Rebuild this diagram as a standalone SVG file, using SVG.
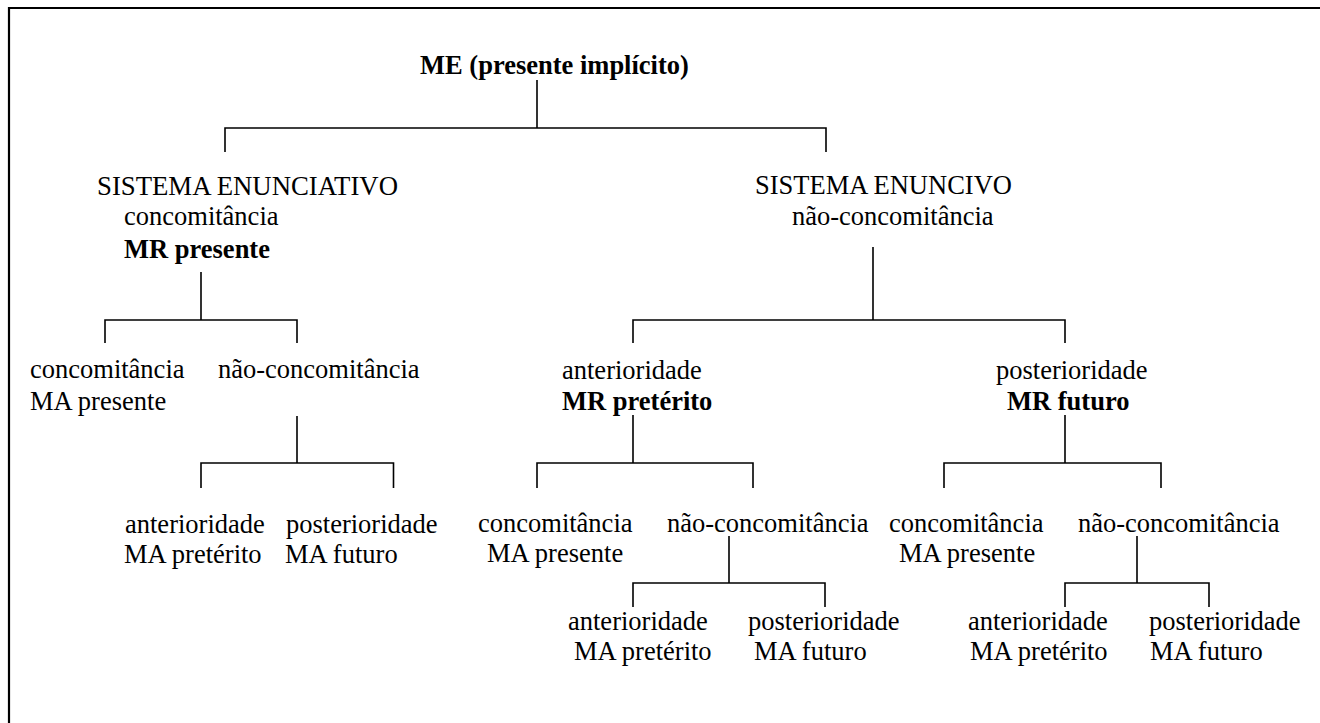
<svg xmlns="http://www.w3.org/2000/svg" width="1320" height="723" viewBox="0 0 1320 723">
<style>
text{font-size:26.5px;fill:#000}
.b{font-weight:bold}
.ln{stroke:#000;stroke-width:1.6;fill:none}
.frame{stroke:#000;stroke-width:2.2;fill:none}
</style>
<rect width="1320" height="723" fill="#fff"/>
<path class="frame" d="M9 723 V8 H1320"/>
<g id="connectors">
<path class="ln" d="M537 80V128M225 152V128H826V152"/>
<path class="ln" d="M201 272V320M105 343V320H297V343"/>
<path class="ln" d="M297 416V463M201 488V463H393.5V488"/>
<path class="ln" d="M873 247V320M633 343V320H1065V343"/>
<path class="ln" d="M633 415V463M537 488V463H753V488"/>
<path class="ln" d="M1065 415V463M944 488V463H1161V488"/>
<path class="ln" d="M729 536V583M633 607V583H825V607"/>
<path class="ln" d="M1137 536V583M1065 607V583H1209V607"/>
</g>
<g font-family="Liberation Serif, serif">
<g id="node-me"><text class="b" x="420" y="74">ME (presente implícito)</text></g>
<g id="node-enunciativo">
<text x="97" y="195" textLength="301" lengthAdjust="spacingAndGlyphs">SISTEMA ENUNCIATIVO</text>
<text x="124" y="225">concomitância</text>
<text class="b" x="124" y="258">MR presente</text>
</g>
<g id="node-enuncivo">
<text x="755" y="194">SISTEMA ENUNCIVO</text>
<text x="792" y="225">não-concomitância</text>
</g>
<g id="node-l-conc">
<text x="30" y="378">concomitância</text>
<text x="30" y="410">MA presente</text>
</g>
<g id="node-l-nconc"><text x="218" y="378">não-concomitância</text></g>
<g id="node-l-ant">
<text x="125" y="533">anterioridade</text>
<text x="124" y="563">MA pretérito</text>
</g>
<g id="node-l-post">
<text x="286" y="533">posterioridade</text>
<text x="285" y="563">MA futuro</text>
</g>
<g id="node-anterioridade">
<text x="562" y="379">anterioridade</text>
<text class="b" x="562" y="410">MR pretérito</text>
</g>
<g id="node-posterioridade">
<text x="996" y="379">posterioridade</text>
<text class="b" x="1007" y="410">MR futuro</text>
</g>
<g id="node-m-conc">
<text x="478" y="532">concomitância</text>
<text x="487" y="562">MA presente</text>
</g>
<g id="node-m-nconc"><text x="667" y="532">não-concomitância</text></g>
<g id="node-m-ant">
<text x="568" y="630">anterioridade</text>
<text x="574" y="660">MA pretérito</text>
</g>
<g id="node-m-post">
<text x="748" y="630">posterioridade</text>
<text x="754" y="660">MA futuro</text>
</g>
<g id="node-r-conc">
<text x="889" y="532">concomitância</text>
<text x="899" y="562">MA presente</text>
</g>
<g id="node-r-nconc"><text x="1078" y="532">não-concomitância</text></g>
<g id="node-r-ant">
<text x="968" y="630">anterioridade</text>
<text x="970" y="660">MA pretérito</text>
</g>
<g id="node-r-post">
<text x="1149" y="630">posterioridade</text>
<text x="1150" y="660">MA futuro</text>
</g>
</g>
</svg>
